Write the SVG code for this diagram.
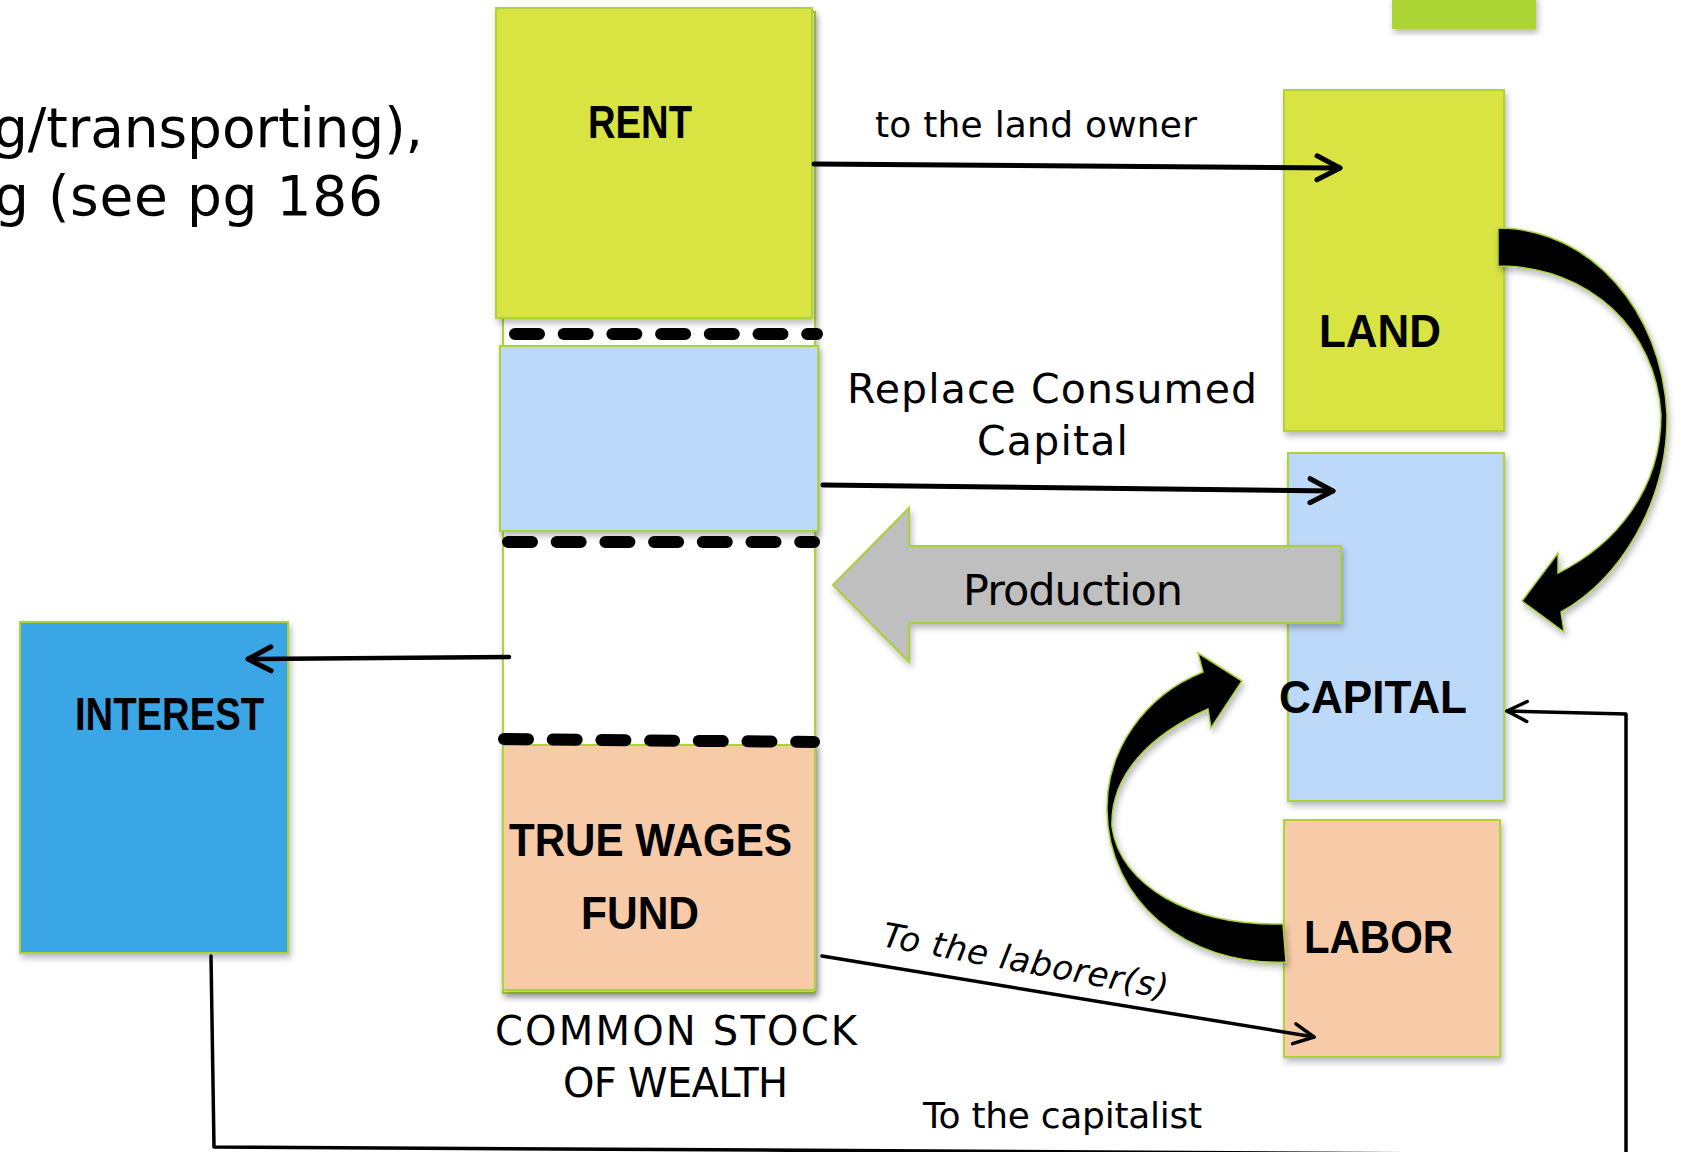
<svg xmlns="http://www.w3.org/2000/svg" width="1681" height="1152" viewBox="0 0 1681 1152">
<defs>
<filter id="sh" x="-10%" y="-10%" width="130%" height="130%"><feDropShadow dx="2" dy="4" stdDeviation="3" flood-color="#000" flood-opacity="0.28"/></filter>
<marker id="ah" markerUnits="userSpaceOnUse" markerWidth="34" markerHeight="34" viewBox="0 0 34 34" refX="28" refY="17" orient="auto"><path d="M5,5 L28,17 L5,29" fill="none" stroke="#000" stroke-width="5" stroke-linecap="round" stroke-linejoin="round"/></marker>
<marker id="ah2" markerUnits="userSpaceOnUse" markerWidth="34" markerHeight="34" viewBox="0 0 34 34" refX="28" refY="17" orient="auto"><path d="M8,7 L28,17 L8,27" fill="none" stroke="#000" stroke-width="3.5" stroke-linecap="round" stroke-linejoin="round"/></marker>
</defs>
<style>
.box{stroke:#ADD435;stroke-width:2;filter:url(#sh)}
.lbl{font-family:"Liberation Sans",Arial,sans-serif;font-weight:bold;font-size:47px;fill:#000}
.txt{font-family:"DejaVu Sans","Liberation Sans",sans-serif;fill:#000}
.ln{fill:none;stroke:#000;stroke-linecap:round;stroke-linejoin:round}
.dash{fill:none;stroke:#000;stroke-width:12;stroke-linecap:round;stroke-dasharray:24 24.7}
.curv{fill:#000;stroke:#A9D13A;stroke-width:1.5;filter:url(#sh)}
</style>
<rect width="1681" height="1152" fill="#fff"/>

<g id="heading">
<text class="txt" x="-7" y="147" font-size="55" textLength="430">g/transporting),</text>
<text class="txt" x="-6" y="215" font-size="55" textLength="389">g (see pg 186</text>
</g>

<g id="corner-tab"><rect x="1392" y="-5" width="144" height="34" fill="#ADD435" filter="url(#sh)"/></g>

<g id="stock-column"><rect class="box" x="503" y="12" width="312" height="981" fill="#fff"/></g>
<g id="rent"><rect class="box" x="496" y="8" width="316" height="310" fill="#D9E443"/>
<text class="lbl" x="588" y="138" textLength="104" lengthAdjust="spacingAndGlyphs">RENT</text></g>
<g id="replace-capital"><rect class="box" x="500" y="346" width="318" height="185" fill="#BDD9F9"/></g>
<g id="wages"><rect class="box" x="503" y="745" width="312" height="245" fill="#F7CAA8"/>
<text class="lbl" x="509" y="856" textLength="283" lengthAdjust="spacingAndGlyphs">TRUE WAGES</text>
<text class="lbl" x="581" y="929" textLength="118" lengthAdjust="spacingAndGlyphs">FUND</text></g>
<g id="dividers">
<line class="dash" x1="515" y1="334" x2="817" y2="334"/>
<line class="dash" x1="508" y1="542" x2="814" y2="542"/>
<line class="dash" x1="504" y1="739" x2="814" y2="742"/>
</g>
<g id="stock-caption">
<text class="txt" x="495" y="1045" font-size="40" textLength="362">COMMON STOCK</text>
<text class="txt" x="563" y="1097" font-size="40" textLength="225">OF WEALTH</text>
</g>

<g id="interest"><rect class="box" x="20" y="622" width="268" height="331" fill="#3AA6E6"/>
<text class="lbl" x="75" y="730" textLength="189" lengthAdjust="spacingAndGlyphs">INTEREST</text></g>

<g id="land"><rect class="box" x="1284" y="90" width="220" height="341" fill="#D9E443"/>
<text class="lbl" x="1319" y="347" textLength="122" lengthAdjust="spacingAndGlyphs">LAND</text></g>
<g id="capital"><rect class="box" x="1288" y="453" width="216" height="348" fill="#BDD9F9"/></g>
<g id="labor"><rect class="box" x="1284" y="820" width="216" height="237" fill="#F7CAA8"/>
<text class="lbl" x="1304" y="953" textLength="149" lengthAdjust="spacingAndGlyphs">LABOR</text></g>

<g id="connectors">
<line class="ln" x1="814" y1="164" x2="1340" y2="168" stroke-width="5" marker-end="url(#ah)"/>
<text class="txt" x="875" y="137" font-size="36" textLength="322">to the land owner</text>
<line class="ln" x1="823" y1="485" x2="1333" y2="491" stroke-width="5" marker-end="url(#ah)"/>
<text class="txt" x="847" y="403" font-size="41" textLength="410">Replace Consumed</text>
<text class="txt" x="977" y="455" font-size="41" textLength="151">Capital</text>
<line class="ln" x1="509" y1="657" x2="248" y2="659" stroke-width="4.5" marker-end="url(#ah)"/>
<g id="production">
<path d="M833,585 L909,508 L909,546 L1341,546 L1341,623 L909,623 L909,662 Z" fill="#BFBFBF" stroke="#A9D13A" stroke-width="2" filter="url(#sh)"/>
<text class="txt" x="963" y="605" font-size="43" textLength="220">Production</text>
</g>
<path class="curv" d="M1498,228 C1590,228 1662,310 1667,415 C1668,505 1618,580 1561,612 L1564,632 L1522,601 L1558,553 L1558,573 C1615,545 1661,490 1661,415 C1656,330 1590,266 1498,266 Z"/>
<path class="curv" d="M1283,924 C1190,926 1120,885 1112,827 C1110,775 1150,735 1208,709 L1211,728 L1242,681 L1198,653 L1203,672 C1145,695 1106,750 1107,810 C1108,900 1185,966 1286,962 Z"/>
<line class="ln" x1="822" y1="956" x2="1314" y2="1037" stroke-width="3.5" marker-end="url(#ah2)"/>
<text class="txt" x="881" y="946" font-size="34" font-style="italic" textLength="290" transform="rotate(10.5 881 946)">To the laborer(s)</text>
<path class="ln" d="M211,956 L214,1147 L1626,1155 L1626,714 L1507,711" stroke-width="3.5" marker-end="url(#ah2)"/>
<text class="txt" x="923" y="1128" font-size="36" textLength="279">To the capitalist</text>
</g>
<text class="lbl" x="1279" y="713" textLength="188" lengthAdjust="spacingAndGlyphs">CAPITAL</text>
</svg>
